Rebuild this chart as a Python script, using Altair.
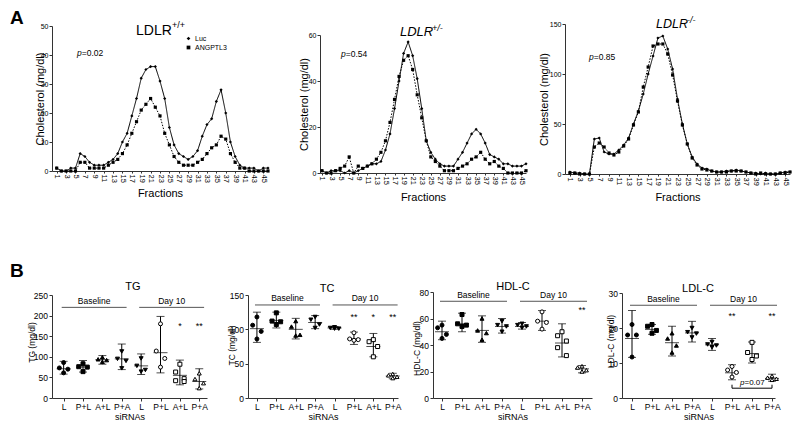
import altair as alt
import pandas as pd

FONT = "Liberation Sans"
CW, CH = 784, 416   # drawing area (page minus the 8px margin)
M = 8               # page margin, converts page pixels to chart pixels

# ======================= Panel A : FPLC cholesterol profiles =======================
fractions = list(range(1, 47))
fraction_ticks = [1, 3, 5, 7, 9, 11, 13, 15, 17, 19, 21, 23, 25, 27, 29, 31, 33, 35,
                  37, 39, 41, 43, 45]
series_names = ["Luc", "ANGPTL3"]
gene_name = "LDLR"
genotypes = ["+/+", "+/-", "-/-"]
p_values_A = ["=0.02", "=0.54", "=0.85"]
yticks_A = [[0, 10, 20, 30, 40, 50], [0, 20, 40, 60], [0, 50, 100, 150]]
xlabel_A = "Fractions"
ylabel_A = "Cholesterol (mg/dl)"

luc_wt = [1, 0, 0, 1, 1, 6, 5, 3, 2, 2, 2, 3, 4, 6, 10, 13, 19, 25, 32, 35, 36, 36, 31, 25, 15,
          9, 6, 5, 4, 5, 7, 12, 16, 18, 24, 28, 20, 10, 5, 2, 1, 1, 1, 0, 1, 1]
ang_wt = [1, 0, 0, 0, 0, 3, 3, 1, 1, 1, 1, 2, 3, 4, 6, 9, 13, 17, 21, 23, 25, 22, 19, 13, 9,
          5, 3, 2, 2, 2, 3, 4, 6, 8, 9, 12, 11, 6, 3, 1, 1, 0, 0, 0, 0, 0]
luc_het = [1, 0, 1, 1, 1, 0, 1, 0, 1, 2, 3, 4, 4, 5, 10, 17, 28, 40, 52, 57, 51, 41, 28, 14, 9,
           6, 4, 3, 3, 3, 6, 9, 13, 17, 19, 17, 13, 8, 7, 6, 4, 4, 3, 3, 3, 4]
ang_het = [1, 0, 0, 1, 2, 3, 7, 0, 3, 2, 3, 4, 6, 9, 14, 22, 32, 42, 49, 51, 45, 34, 24, 14, 7,
           5, 3, 1, 1, 1, 2, 3, 4, 6, 7, 9, 6, 4, 5, 3, 2, 0, 0, 0, 0, 1]
luc_ko = [2, 1, 1, 0, 0, 35, 36, 22, 20, 20, 24, 29, 36, 50, 63, 80, 100, 118, 136, 138, 125,
          105, 75, 50, 30, 17, 10, 6, 5, 3, 2, 2, 3, 3, 4, 3, 2, 1, 1, 0, 1, 0, 0, 1, 2, 2]
ang_ko = [1, 1, 0, 0, 0, 27, 31, 27, 21, 19, 22, 28, 35, 49, 62, 87, 107, 128, 130, 130, 120,
          99, 73, 49, 30, 16, 9, 5, 4, 3, 2, 2, 2, 3, 3, 3, 2, 1, 0, 1, 0, 0, 0, 1, 1, 2]
profiles = [(luc_wt, ang_wt), (luc_het, ang_het), (luc_ko, ang_ko)]

# layout of the three profile panels (page pixels)
layoutA = [
    dict(xdom=[0, 46], xpx=(52, 268), ypx=(171, 26), title=(136, 31, 14, "normal"),
         sup=(172, 25), p=(77, 53), ytx=-12, xty=22),
    dict(xdom=[0.56, 46], xpx=(320, 526), ypx=(173, 35), title=(400, 32, 13, "italic"),
         sup=(432, 28), p=(341, 54), ytx=-16, xty=24),
    dict(xdom=[0, 46], xpx=(565, 790), ypx=(174, 24), title=(656, 24, 12.5, "italic"),
         sup=(687, 20), p=(589, 57), ytx=-21, xty=23),
]

# ======================= Panel B : plasma lipids by siRNA =======================
groups = ["L", "P+L", "A+L", "P+A", "L", "P+L", "A+L", "P+A"]
periods = ["Baseline"] * 4 + ["Day 10"] * 4
xlabel_B = "siRNAs"

tg_pts = [[86, 73, 70, 61], [83, 76, 75, 64], [99, 94, 92, 88], [113, 95, 90, 72],
          [96, 78, 68, 64], [180, 114, 96, 75], [82, 63, 47, 42, 40], [60, 46, 36, 24]]
tg_mean = [71, 75, 93, 95, 78, 110, 55, 40]
tg_lo = [58, 63, 82, 69, 57, 61, 32, 22]
tg_hi = [89, 91, 103, 131, 107, 198, 92, 71]
tg_stars = ["", "", "", "", "", "", "*", "**"]

tc_pts = [[118, 106, 97, 86], [124, 112, 111, 107], [112, 104, 92, 91], [118, 114, 107, 102],
          [103, 102, 101, 101], [95, 86, 85, 84], [85, 82, 75, 60], [35, 33, 31, 29]]
tc_mean = [101, 113, 100, 110, 102, 86, 75, 32]
tc_lo = [81, 102, 86, 101, 100, 78, 60, 28]
tc_hi = [125, 125, 116, 120, 104, 96, 94, 36]
tc_stars = ["", "", "", "", "", "**", "*", "**"]

hdl_pts = [[55, 53, 48, 45], [63, 56, 55, 54], [60, 51, 49, 44], [58, 55, 54, 50],
           [56, 55, 54, 53], [65, 58, 57, 52], [50, 47, 43, 38, 32], [24, 23, 21, 20]]
hdl_mean = [50, 56, 51, 54, 54, 58, 41.5, 22]
hdl_lo = [44, 50, 42, 49, 52, 51, 31, 19]
hdl_hi = [58, 64, 62, 60, 57, 66, 56, 24.5]
hdl_stars = ["", "", "", "", "", "", "", "**"]

ldl_pts = [[21, 18, 18, 11.7], [21, 20.5, 19.3, 18.5], [18.5, 17, 15, 13], [20, 18.8, 18.4, 17.3],
           [16, 15.3, 15, 14.5], [9, 8, 7.3, 6], [15.9, 13, 12, 11], [6.3, 5.8, 5.5, 5.2]]
ldl_mean = [17, 19.6, 15.8, 18.6, 15.2, 7.2, 12.7, 5.6]
ldl_lo = [11.6, 18.2, 12, 16, 13.6, 5.2, 10, 4.8]
ldl_hi = [25, 21, 20.5, 21.9, 17, 9.5, 16, 6.8]
ldl_stars = ["", "", "", "", "", "**", "", "**"]
ldl_bracket = ("P+L", "P+A", "=0.07")   # day-10 comparison

dataB = [
    dict(title="TG", ytitle="TG (mg/dl)", pts=tg_pts, mean=tg_mean, lo=tg_lo, hi=tg_hi,
         stars=tg_stars, yticks=[0, 50, 100, 150, 200, 250]),
    dict(title="TC", ytitle="TC (mg/dl)", pts=tc_pts, mean=tc_mean, lo=tc_lo, hi=tc_hi,
         stars=tc_stars, yticks=[0, 50, 100, 150]),
    dict(title="HDL-C", ytitle="HDL-C (mg/dl)", pts=hdl_pts, mean=hdl_mean, lo=hdl_lo,
         hi=hdl_hi, stars=hdl_stars, yticks=[0, 20, 40, 60, 80]),
    dict(title="LDL-C", ytitle="LDL-C (mg/dl)", pts=ldl_pts, mean=ldl_mean, lo=ldl_lo,
         hi=ldl_hi, stars=ldl_stars, yticks=[0, 10, 20, 30]),
]

# styles / layout of the four dot-plot panels
marker_shapes = ["circle", "square", "triangle-up", "triangle-down",
                 "triangle-down", "circle", "square", "triangle-up"]
marker_fills = ["black"] * 5 + ["white"] * 3
layoutB = [
    dict(xdom=[-0.6, 7.4], xpx=(52, 207), ypx=(398, 295), title=(133, 287),
         ytx=-21, yty=342, period_y=220, star_y=183),
    dict(xdom=[-0.46, 7.27], xpx=(248, 398), ypx=(398, 295), title=(327, 289),
         ytx=-17, yty=345, period_y=135.5, star_y=123),
    dict(xdom=[-0.45, 7.5], xpx=(433, 592), ypx=(398, 292), title=(513, 287),
         ytx=-17, yty=348, period_y=73, star_y=68.7),
    dict(xdom=[-0.5, 7.15], xpx=(622, 775), ypx=(398, 293), title=(698, 289),
         ytx=-12, yty=341, period_y=26.5, star_y=24.3),
]
bracket_level = (2.8, 3.8)
jitter = {4: [0, -0.22, 0.22, 0], 5: [0, -0.22, 0.22, -0.22, 0.22]}


def text_layer(label, x, y, size, align="left", baseline="middle", **kw):
    return alt.Chart(pd.DataFrame({"label": [label]})).mark_text(
        font=FONT, fontSize=size, align=align, baseline=baseline, color="black", **kw
    ).encode(text="label:N", x=alt.value(x - M), y=alt.value(y - M))


def panel_A(k):
    L = layoutA[k]
    luc, ang = profiles[k]
    xs = alt.Scale(domain=L["xdom"], range=[L["xpx"][0] - M, L["xpx"][1] - M], nice=False, zero=False)
    ys = alt.Scale(domain=[yticks_A[k][0], yticks_A[k][-1]],
                   range=[L["ypx"][0] - M, L["ypx"][1] - M], nice=False, zero=False)
    df = pd.DataFrame({
        "fraction": fractions + fractions,
        "chol": luc + ang,
        "series": [series_names[0]] * len(luc) + [series_names[1]] * len(ang),
    })
    xaxis = alt.Axis(orient="bottom", offset=L["ypx"][0] - M - CH, values=fraction_ticks,
                     labelAngle=90, labelAlign="left", labelBaseline="middle",
                     labelFontSize=7.5, labelPadding=1, tickSize=2, title=xlabel_A,
                     titleFontSize=11, titleY=L["xty"], titleBaseline="middle",
                     labelOverlap=False, labelFlush=False, labelBound=False)
    yaxis = alt.Axis(orient="left", offset=-(L["xpx"][0] - M), values=yticks_A[k],
                     labelFontSize=7, labelPadding=1, tickSize=3, title=ylabel_A,
                     titleFontSize=11, titleX=L["ytx"],
                     titleY=(L["ypx"][0] + L["ypx"][1]) / 2 - M, titleBaseline="middle",
                     titleAngle=270, labelOverlap=False, labelFlush=False)
    if k == 0:
        leg = alt.Legend(orient="none", legendX=185 - M, legendY=35 - M, title=None,
                         labelFont=FONT, labelFontSize=7, labelColor="black", symbolSize=14,
                         symbolStrokeWidth=1, symbolStrokeColor="black",
                         symbolFillColor="black", rowPadding=0, labelOffset=3, padding=0)
        dash = alt.StrokeDash("series:N", scale=alt.Scale(domain=series_names, range=[[1, 0], [1.5, 1.5]]), legend=leg)
        shp = alt.Shape("series:N", scale=alt.Scale(domain=series_names, range=["diamond", "square"]), legend=leg)
    else:
        dash = alt.StrokeDash("series:N", scale=alt.Scale(domain=series_names, range=[[1, 0], [1.5, 1.5]]), legend=None)
        shp = alt.Shape("series:N", scale=alt.Scale(domain=series_names, range=["diamond", "square"]), legend=None)
    lines = alt.Chart(df).mark_line(
        strokeWidth=1, color="black",
        point=alt.OverlayMarkDef(filled=True, size=10, color="black"),
    ).encode(
        x=alt.X("fraction:Q", scale=xs, axis=xaxis),
        y=alt.Y("chol:Q", scale=ys, axis=yaxis),
        strokeDash=dash, shape=shp, order="fraction:Q",
    )
    tx, ty, tsize, tstyle = L["title"]
    out = [lines,
           text_layer(gene_name, tx, ty, tsize, fontStyle=tstyle),
           text_layer(genotypes[k], L["sup"][0], L["sup"][1], 9, fontStyle=tstyle),
           text_layer("p", L["p"][0], L["p"][1], 8.5, fontStyle="italic"),
           text_layer(p_values_A[k], L["p"][0] + 4.8, L["p"][1], 8.5)]
    return out


def panel_B(k):
    P = layoutB[k]
    D = dataB[k]
    xs = alt.Scale(domain=P["xdom"], range=[P["xpx"][0] - M, P["xpx"][1] - M], nice=False, zero=False)
    ys = alt.Scale(domain=[D["yticks"][0], D["yticks"][-1]],
                   range=[P["ypx"][0] - M, P["ypx"][1] - M], nice=False, zero=False)
    rows = []
    for i, vals in enumerate(D["pts"]):
        ordered = sorted(vals, reverse=True)
        for v, o in zip(ordered, jitter[len(vals)]):
            rows.append({"x": i + o, "v": v, "shape": marker_shapes[i], "fill": marker_fills[i]})
    pts = pd.DataFrame(rows)
    summ = pd.DataFrame({"x": list(range(len(groups))), "mean": D["mean"], "lo": D["lo"],
                         "hi": D["hi"], "star": D["stars"]})
    label_expr = "[" + ",".join("'" + g + "'" for g in groups) + "][datum.value]"
    xaxis = alt.Axis(orient="bottom", offset=P["ypx"][0] - M - CH, values=list(range(len(groups))),
                     labelExpr=label_expr, labelAngle=0, labelFontSize=8.5, labelPadding=1,
                     tickSize=3, title=xlabel_B, titleFontSize=9, titleY=14,
                     titleBaseline="top", labelOverlap=False, labelFlush=False)
    yaxis = alt.Axis(orient="left", offset=-(P["xpx"][0] - M), values=D["yticks"],
                     labelFontSize=8.5, labelPadding=1.5, tickSize=3, title=D["ytitle"],
                     titleFontSize=8.5, titleX=P["ytx"], titleY=P["yty"] - M,
                     titleBaseline="middle", titleAngle=270, labelOverlap=False, labelFlush=False)
    X = lambda f: alt.X(f, scale=xs, axis=None)
    Y = lambda f: alt.Y(f, scale=ys, axis=None)

    bars = alt.Chart(summ).mark_rule(color="black", strokeWidth=1).encode(
        x=X("x:Q"), y=Y("lo:Q"), y2="hi:Q")
    cap_lo = alt.Chart(summ).mark_tick(orient="horizontal", size=8, thickness=1, color="black").encode(
        x=X("x:Q"), y=Y("lo:Q"))
    cap_hi = alt.Chart(summ).mark_tick(orient="horizontal", size=8, thickness=1, color="black").encode(
        x=X("x:Q"), y=Y("hi:Q"))
    mean = alt.Chart(summ).mark_tick(orient="horizontal", size=14, thickness=1, color="black").encode(
        x=X("x:Q"), y=Y("mean:Q"))
    dots = alt.Chart(pts).mark_point(filled=True, size=16, stroke="black", strokeWidth=1,
                                     opacity=1).encode(
        x=alt.X("x:Q", scale=xs, axis=xaxis),
        y=alt.Y("v:Q", scale=ys, axis=yaxis),
        shape=alt.Shape("shape:N", scale=None),
        fill=alt.Fill("fill:N", scale=None),
    )
    # period spans (Baseline / Day 10)
    prow = []
    for name in ["Baseline", "Day 10"]:
        idx = [i for i, p in enumerate(periods) if p == name]
        s, e = idx[0] - 0.1, idx[-1] + 0.25
        prow.append({"name": name, "start": s, "end": e, "mid": (s + e) / 2, "y": P["period_y"]})
    pdf = pd.DataFrame(prow)
    prule = alt.Chart(pdf).mark_rule(color="#555", strokeWidth=1).encode(
        x=X("start:Q"), x2="end:Q", y=Y("y:Q"))
    ptext = alt.Chart(pdf).mark_text(font=FONT, fontSize=8.5, baseline="bottom", dy=-1.5,
                                     color="black").encode(x=X("mid:Q"), y=Y("y:Q"), text="name:N")
    sdf = summ.assign(sy=P["star_y"])
    stars = alt.Chart(sdf).mark_text(font=FONT, fontSize=9, baseline="middle", dy=3,
                                     color="black").encode(x=X("x:Q"), y=Y("sy:Q"), text="star:N")
    out = [prule, ptext, bars, cap_lo, cap_hi, mean, dots, stars,
           text_layer(D["title"], P["title"][0], P["title"][1], 11, align="center")]
    if k == 3:
        a = groups.index(ldl_bracket[0], 4)
        b = groups.index(ldl_bracket[1], 4)
        lo_lv, hi_lv = bracket_level
        bdf = pd.DataFrame({"x": [a, a, b], "x2": [b, a, b],
                            "y": [lo_lv, lo_lv, lo_lv], "y2": [lo_lv, hi_lv, hi_lv]})
        out.append(alt.Chart(bdf).mark_rule(color="black", strokeWidth=1).encode(
            x=X("x:Q"), x2="x2:Q", y=Y("y:Q"), y2="y2:Q"))
        tdf = pd.DataFrame({"x": [(a + b) / 2], "y": [lo_lv], "p": ["p"], "v": [ldl_bracket[2]]})
        out.append(alt.Chart(tdf).mark_text(font=FONT, fontSize=8, fontStyle="italic", align="left",
                                            baseline="bottom", dx=-12, dy=-1, color="black").encode(
            x=X("x:Q"), y=Y("y:Q"), text="p:N"))
        out.append(alt.Chart(tdf).mark_text(font=FONT, fontSize=8, align="left",
                                            baseline="bottom", dx=-7.5, dy=-1, color="black").encode(
            x=X("x:Q"), y=Y("y:Q"), text="v:N"))
    return out


layers = []
for k in range(3):
    layers += panel_A(k)
for k in range(4):
    layers += panel_B(k)
layers.append(text_layer("A", 10, 9, 19, baseline="top", fontWeight="bold"))
layers.append(text_layer("B", 10, 262, 19, baseline="top", fontWeight="bold"))

chart = alt.layer(*layers).resolve_scale(
    x="independent", y="independent", shape="independent", strokeDash="independent"
).resolve_axis(x="independent", y="independent").resolve_legend(
    shape="independent", strokeDash="independent"
).properties(
    width=CW, height=CH, autosize=alt.AutoSizeParams(type="none"), padding=0
).configure_view(stroke="transparent").configure_axis(
    labelFont=FONT, titleFont=FONT, grid=False, domainColor="#333", tickColor="#333",
    labelColor="#000", titleColor="#000", titleFontWeight="normal", domainWidth=1, tickWidth=1
).configure_legend(labelColor="#000", labelFont=FONT)

chart.save("out.html", embed_options={"renderer": "svg", "actions": False})
